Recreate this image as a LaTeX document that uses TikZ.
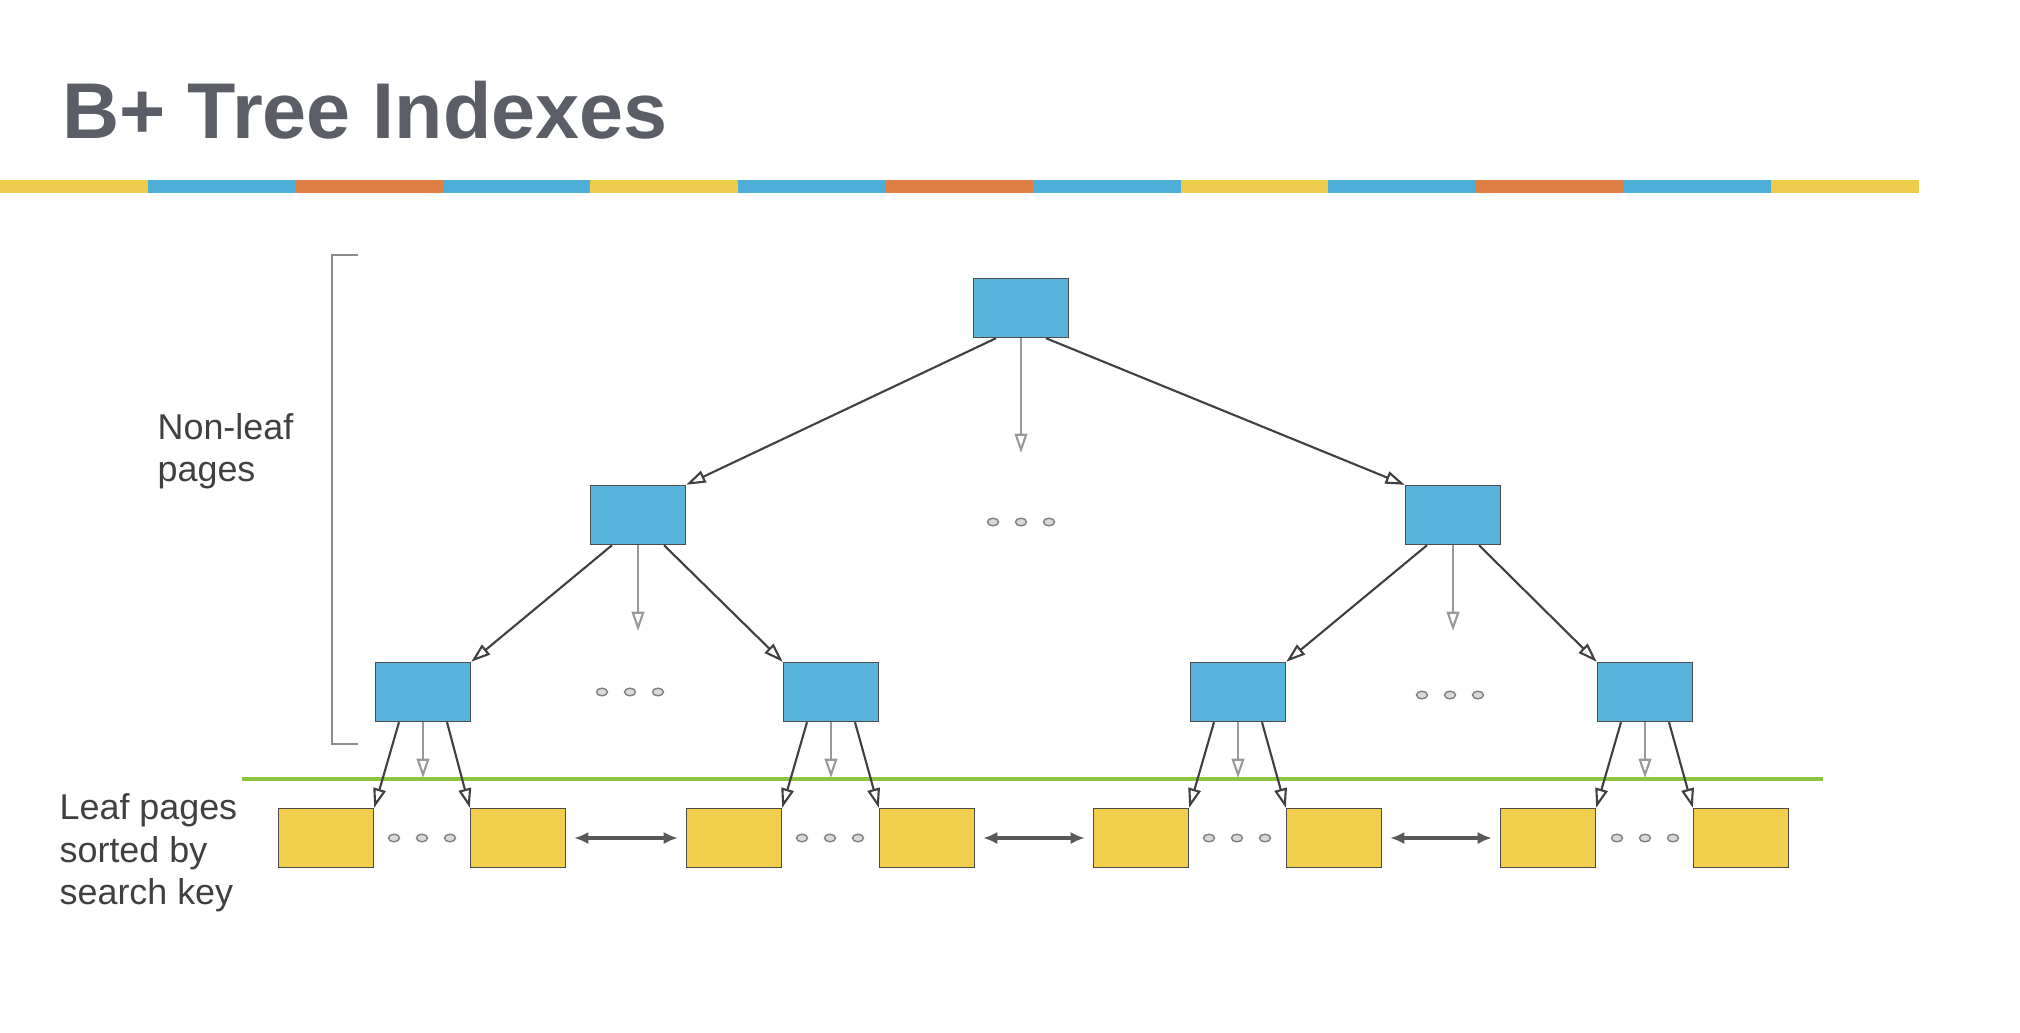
\documentclass[tikz,border=0pt]{standalone}
\usepackage{fontspec}
\setmainfont{Liberation Sans}
\usetikzlibrary{arrows, arrows.meta}

\definecolor{slidegray}{HTML}{5B5E67}
\definecolor{pageblue}{HTML}{5AB3DD}
\definecolor{pageyellow}{HTML}{F1CF4D}
\definecolor{barorange}{HTML}{E07F45}
\definecolor{barblue}{HTML}{4DAED8}
\definecolor{baryellow}{HTML}{EECB4B}
\definecolor{leafgreen}{HTML}{8CC63E}

\tikzset{
  innerpage/.style={draw=black!70, fill=pageblue, minimum width=0.95cm, minimum height=0.59cm, inner sep=0pt, line width=0.4pt},
  leafpage/.style={innerpage, fill=pageyellow},
  ptr/.style={draw=black!75, line width=0.6pt, -{Triangle[open, length=5.5pt, width=3.6pt]}},
  ptrmid/.style={ptr, draw=black!40},
  sib/.style={draw=black!65, line width=0.9pt, {Latex[length=4pt, width=3.5pt]}-{Latex[length=4pt, width=3.5pt]}, shorten <=0.08cm, shorten >=0.08cm},
  pagedot/.style={draw=black!50, fill=black!15, line width=0.4pt},
  sidelabel/.style={anchor=west, align=left, inner sep=0pt, text=black!75},
}
\newcommand{\dotrow}[2]{%
  \foreach \d in {-1,0,1} \filldraw[pagedot] (#1+\d*28,#2) ellipse (0.055cm and 0.038cm);}

\begin{document}
\begin{tikzpicture}[x=0.01cm, y=-0.01cm, >=latex, font=\fontsize{10.2}{12.1}\selectfont]
\useasboundingbox (0,0) rectangle (2020,1032);

% title + bar
\node[anchor=base west, inner sep=0pt, text=slidegray, font=\fontsize{22.5}{26}\selectfont\bfseries] (title) at (62,138) {B+ Tree Indexes};
\foreach \c [count=\i from 0] in {baryellow,barblue,barorange,barblue,baryellow,barblue,barorange,barblue,baryellow,barblue,barorange,barblue,baryellow}
  \fill[\c] (\i*147.6,180) rectangle ({(\i+1)*147.6},193);

% side labels
\node[sidelabel] (nonleaf) at (157,451) {Non-leaf\\pages};
\node[sidelabel] (leaflbl) at (59,853) {Leaf pages\\sorted by\\search key};
\draw[black!45, line width=0.7pt] (358,255) -- (332,255) -- (332,744) -- (358,744); %bracket
\draw[leafgreen, line width=1.1pt] (242,779) -- (1823,779);

% non-leaf pages
\node[innerpage] (root) at (1021,308) {};
\node[innerpage] (l1a) at (638,515) {};
\node[innerpage] (l1b) at (1453,515) {};
\node[innerpage] (l2a) at (423,692) {};
\node[innerpage] (l2b) at (831,692) {};
\node[innerpage] (l2c) at (1238,692) {};
\node[innerpage] (l2d) at (1645,692) {};

% leaf pages
\node[leafpage] (lf1) at (326,838) {};
\node[leafpage] (lf2) at (518,838) {};
\node[leafpage] (lf3) at (734,838) {};
\node[leafpage] (lf4) at (927,838) {};
\node[leafpage] (lf5) at (1141,838) {};
\node[leafpage] (lf6) at (1334,838) {};
\node[leafpage] (lf7) at (1548,838) {};
\node[leafpage] (lf8) at (1741,838) {};

% free ends of the middle pointers
\coordinate (rootmid) at (1021,453);
\coordinate (l1amid) at (638,631);
\coordinate (l1bmid) at (1453,631);
\coordinate (l2amid) at (423,778);
\coordinate (l2bmid) at (831,778);
\coordinate (l2cmid) at (1238,778);
\coordinate (l2dmid) at (1645,778);

% pointers
\draw[ptr] ([xshift=-0.25cm]root.south) -- (l1a.north east);
\draw[ptrmid] (root.south) -- (rootmid);
\draw[ptr] ([xshift=0.25cm]root.south) -- (l1b.north west);

\draw[ptr] ([xshift=-0.26cm]l1a.south) -- (l2a.north east);
\draw[ptrmid] (l1a.south) -- (l1amid);
\draw[ptr] ([xshift=0.26cm]l1a.south) -- (l2b.north west);
\draw[ptr] ([xshift=-0.26cm]l1b.south) -- (l2c.north east);
\draw[ptrmid] (l1b.south) -- (l1bmid);
\draw[ptr] ([xshift=0.26cm]l1b.south) -- (l2d.north west);

\draw[ptr] ([xshift=-0.24cm]l2a.south) -- (lf1.north east);
\draw[ptrmid] (l2a.south) -- (l2amid);
\draw[ptr] ([xshift=0.24cm]l2a.south) -- (lf2.north west);
\draw[ptr] ([xshift=-0.24cm]l2b.south) -- (lf3.north east);
\draw[ptrmid] (l2b.south) -- (l2bmid);
\draw[ptr] ([xshift=0.24cm]l2b.south) -- (lf4.north west);
\draw[ptr] ([xshift=-0.24cm]l2c.south) -- (lf5.north east);
\draw[ptrmid] (l2c.south) -- (l2cmid);
\draw[ptr] ([xshift=0.24cm]l2c.south) -- (lf6.north west);
\draw[ptr] ([xshift=-0.24cm]l2d.south) -- (lf7.north east);
\draw[ptrmid] (l2d.south) -- (l2dmid);
\draw[ptr] ([xshift=0.24cm]l2d.south) -- (lf8.north west);

% sibling links
\draw[sib] (lf2.east) -- (lf3.west);
\draw[sib] (lf4.east) -- (lf5.west);
\draw[sib] (lf6.east) -- (lf7.west);

% dots
\dotrow{1021}{522}
\dotrow{630}{692}
\dotrow{1450}{695}
\dotrow{422}{838}
\dotrow{830}{838}
\dotrow{1237}{838}
\dotrow{1645}{838}

\end{tikzpicture}
\end{document}
